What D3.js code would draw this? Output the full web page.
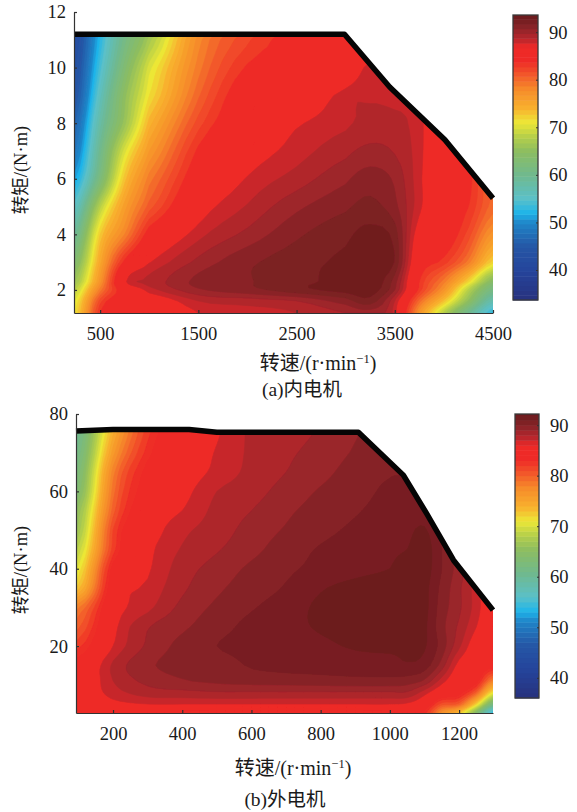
<!DOCTYPE html>
<html><head><meta charset="utf-8">
<script src="https://cdn.jsdelivr.net/npm/d3@7"></script>
<style>
html,body{margin:0;padding:0;background:#fff}
svg{display:block}
text{font-family:"Liberation Serif","Noto Sans CJK SC",serif;fill:#1a1a1a}
</style></head><body>
<svg id="c" width="577" height="812"></svg>
<script>
// ---------- shared colour map (position along colour bar -> colour)
const mapStops=[0.005,0.105,0.189,0.272,0.305,0.356,0.439,0.523,0.573,0.623,0.673,0.74,0.79,0.84,0.89,0.907,0.923,0.94,0.957,0.973,0.99,1];
const mapColors=["#27327f","#25459c","#2557a6","#1f86c9","#1db4ea","#5bc0c8","#70b98e","#8dbd60","#b5cf4a","#ece736","#f8b12e","#f68b2a","#f2592a","#ee2a27","#ee2a27","#c8272b","#b1262c","#9e252b","#892428","#7c2023","#701d1f","#6a1b1e"];

// ---------- (a) inner motor
const speedA=[234,500,750,1000,1500,2000,2500,3000,3250,3500,3750,4000,4250,4500];
const torqueA=[1.17,1.6,2,2.3,3,4,5,6,7,8,9,10,11,11.4];
const effA=[
[71,83.5,85,85.5,87.5,88,88.5,89.5,90,88,77,68,60,53],
[70,82,85,86,88.5,89,89.5,91,92,88.5,80,73,65,57],
[68,79,85,88,90.3,91.1,92.1,92.8,93,90.5,83,77,68,61],
[66,77,87.2,88.8,90.8,91.4,92.2,92.8,93.1,91,83.5,79,72,64],
[63,75,84,87.4,89.8,91.25,92.07,92.7,92.9,92.4,85,83,79,72],
[59,72.5,78.5,84.5,88.1,89.8,91.3,92.25,92.8,92,86.5,85,82,77],
[55,68,76,81,86.5,88.6,90.25,91.3,91.8,90.8,87.8,85,83.5,80],
[51,62,73,79,85,87.6,88.95,90.3,91,90.3,87.8,85,84,80],
[48,60,70,76.5,83.8,86.5,88,89.2,89.8,89.4,87.9,85,84,81],
[46,58,66,74,82,85.5,87.3,88.3,88.8,88.8,87.9,85,84,81],
[44,56,65,71.5,80.3,85,85.5,88,88.4,88.2,87.8,85,84,81],
[43,54,63,70,79,83.7,84.5,85.5,88,87.8,85,85,84,81],
[42,52.5,61,67,78,82.3,84.2,84.5,85,85,85,85,84,81],
[41,52,60,66,77,82,84,84.5,85,85,85,85,84,81]];
const limitSpeedA=[234,2988,3448,4010,4500];
const limitTorqueA=[11.2,11.2,9.3,7.4,5.3];
const xTicksA=[500,1500,2500,3500,4500];
const yTicksA=[2,4,6,8,10,12];
const barTicksA=[40,50,60,70,80,90];

// ---------- (b) outer motor
const speedB=[93,200,300,400,500,600,700,800,900,1000,1050,1100,1150,1200,1250,1298];
const torqueB=[2.7,5,8,11,15,20,25,30,35,40,45,50,55,60,65,70,76.5];
const effB=[
[83,84,84,84,84,84,84,84,84,84,84,83,77,73,64,54],
[85,86,86.5,86.5,86.5,86.5,86.5,86.5,86.5,86.5,86.3,85,81,80,72,62],
[85,87,88,88.2,88.4,88.4,88.4,88.4,88.4,88.4,88.4,87,85,84,80,71],
[84.5,87.5,88.8,89.4,89.7,89.9,90,90.1,90.2,90.2,90,89.3,87,85,84,78],
[84,87.7,89.3,89.8,90,90.6,90.8,90.9,91,91.1,91.4,91,89,86,85,84],
[82,86.5,88.7,89.8,90.5,90.8,91,91.3,91.6,91.7,91.6,91.6,90,87.7,85.5,84.5],
[80,86,88.4,89.3,90.1,90.8,91.2,91.6,91.8,92,91.9,91.7,89.8,88.3,86.5,84.8],
[78,85.4,87.2,88.8,89.7,90.4,91,91.7,92,92,92,91.8,90,88.7,87,85],
[72.5,84.8,86.7,88.3,89.3,90,90.6,91.4,91.8,92,92,91.8,90.2,88.7,87,85],
[70,84,86.3,88,88.9,89.7,90.3,90.8,91.2,91.5,92,92,90.5,89,87.5,86],
[68,82,86,87.6,88.4,89.2,90,90.6,91,91.3,91.5,92,90.5,89,88,87],
[66,81.5,85.5,87.2,88,88.9,89.6,90.2,90.7,91.1,91.3,91.6,90.5,90,89,88],
[65,80,85.2,86.5,87.8,88.5,89.3,89.9,90.4,90.9,91.1,91,90.5,90,89,88],
[63,79,84.5,86,87.5,88.1,88.9,89.6,90.1,90.7,90.7,90.3,90,90,89,88],
[62,78,84,85.6,86.8,87.8,88.5,89.2,89.9,90.4,90.4,90.3,90,90,89,88],
[61,76,83,85.3,86.6,87.7,88.3,88.9,89.6,90,90,90,90,90,89,88],
[60,74,82,85,86.3,87.7,88,88.6,89.4,89.8,89.8,89.8,89.8,89.8,89,88]];
const limitSpeedB=[93,200,420,500,909,1039,1106,1184,1298];
const limitTorqueB=[75.6,76,76,75.3,75.3,64.2,54.3,42.2,29.3];
const xTicksB=[200,400,600,800,1000,1200];
const yTicksB=[20,40,60,80];
const barTicksB=[40,50,60,70,80,90];

const svg=d3.select("#c");
const defs=svg.append("defs");
// render-time smoothing of the value table so the filled contours are not faceted
const K=4;
function cr(p0,p1,p2,p3,t){return .5*(2*p1+(p2-p0)*t+(2*p0-5*p1+4*p2-p3)*t*t+(3*p1-p0-3*p2+p3)*t*t*t);}
function resample(rows){
  const m=rows.length,n=rows[0].length;
  const at=(j,i)=>rows[Math.max(0,Math.min(m-1,j))][Math.max(0,Math.min(n-1,i))];
  const N=(n-1)*K+1,M=(m-1)*K+1,out=[];
  const mx=d3.max(rows.flat()),mn=d3.min(rows.flat());
  for(let J=0;J<M;J++){
    const j=Math.min(Math.floor(J/K),m-2),v=J/K-j;
    for(let I=0;I<N;I++){
      const i=Math.min(Math.floor(I/K),n-2),u=I/K-i;
      const col=d3.range(-1,3).map(d=>cr(at(j+d,i-1),at(j+d,i),at(j+d,i+1),at(j+d,i+2),u));
      out.push(Math.max(mn,Math.min(mx,cr(col[0],col[1],col[2],col[3],v))));
    }
  }
  return {values:out,N,M};
}
function panel(o){
  const x=d3.scaleLinear().domain(o.xDom).range([o.l,o.r]);
  const y=d3.scaleLinear().domain(o.yDom).range([o.b,o.t]);
  const tScale=d3.scaleLinear().domain(mapStops).range(mapColors).clamp(true);
  const col=v=>tScale((v-o.barDom[0])/(o.barDom[1]-o.barDom[0]));
  const R=resample(o.eff);
  const mapAxis=(arr,cnt)=>{
    const idx=d3.scaleLinear().domain(d3.range(arr.length)).range(arr);
    return c=>idx(Math.max(0,Math.min(cnt-1,c-.5))/K);
  };
  const gx=mapAxis(o.speed,R.N),gy=mapAxis(o.torque,R.M);
  const lo=Math.floor(d3.min(R.values)),hi=Math.ceil(d3.max(R.values));
  const th=d3.range(lo+.5,hi,1);
  const conts=d3.contours().size([R.N,R.M]).smooth(true).thresholds(th)(R.values);
  const line=d3.line().x(d=>x(gx(d[0]))).y(d=>y(gy(d[1])));
  const pathOf=c=>c.coordinates.map(p=>p.map(r=>line(r)+"Z").join("")).join("");
  const clipPts=o.limitS.map((s,i)=>[x(s),y(o.limitT[i])]);
  clipPts.push([x(o.xDom[1]),o.b],[x(o.xDom[0]),o.b]);
  defs.append("clipPath").attr("id",o.id).append("polygon").attr("points",clipPts.map(p=>p.join(",")).join(" "));
  defs.append("filter").attr("id",o.id+"b").append("feGaussianBlur").attr("stdDeviation",0.5);
  const g=svg.append("g").attr("clip-path",`url(#${o.id})`).append("g").attr("filter",`url(#${o.id}b)`);
  g.append("rect").attr("x",o.l-3).attr("y",o.t-3).attr("width",o.r-o.l+6).attr("height",o.b-o.t+6).attr("fill",col(lo));
  g.selectAll("path").data(conts).join("path").attr("d",pathOf)
    .attr("fill",d=>col(d.value+.5)).attr("stroke",d=>col(d.value+.5)).attr("stroke-width",.5);
  svg.append("path").attr("fill","none").attr("stroke","#050505").attr("stroke-width",5.5).attr("stroke-linejoin","round")
    .attr("d",d3.line()(o.limitS.map((s,i)=>[x(s),y(o.limitT[i])])));
  const fmt=d3.format("d");
  const ax=svg.append("g").attr("transform",`translate(0,${o.b})`).call(d3.axisBottom(x).tickValues(o.xTicks).tickFormat(fmt).tickSizeInner(-3).tickSizeOuter(0).tickPadding(14));
  const ay=svg.append("g").attr("transform",`translate(${o.l},0)`).call(d3.axisLeft(y).tickValues(o.yTicks).tickFormat(fmt).tickSizeInner(-3).tickSizeOuter(0).tickPadding(8));
  [ax,ay].forEach(a=>{a.attr("font-family",null);a.selectAll("text").attr("font-size",18.5).style("fill","#1a1a1a");
    a.selectAll("line,path").attr("stroke","#333").attr("stroke-width",1.2);});
  const by=d3.scaleLinear().domain(o.barDom).range([o.barB,o.barT]);
  const bandEdges=d3.range(o.barDom[0],o.barDom[1],1);
  svg.append("g").selectAll("rect").data(bandEdges).join("rect")
    .attr("x",o.barL).attr("width",o.barW)
    .attr("y",d=>by(Math.min(d+1,o.barDom[1]))).attr("height",d=>by(d)-by(Math.min(d+1,o.barDom[1]))+.5)
    .attr("fill",d=>col(d+.5));
  svg.append("rect").attr("x",o.barL).attr("y",o.barT).attr("width",o.barW).attr("height",o.barB-o.barT)
    .attr("fill","none").attr("stroke","#3a3a3a").attr("stroke-width",1.3);
  const ab=svg.append("g").attr("transform",`translate(${o.barL+o.barW},0)`).call(d3.axisRight(by).tickValues(o.barTicks).tickFormat(fmt).tickSizeInner(-2).tickSizeOuter(0).tickPadding(11));
  ab.select(".domain").remove();ab.attr("font-family",null);
  ab.selectAll("line").attr("stroke","#333");
  ab.selectAll("text").attr("font-size",18.5).style("fill","#1a1a1a");
  svg.append("text").attr("transform",`translate(${o.yLabX},${o.yLabY}) rotate(-90)`).attr("text-anchor","middle").attr("font-size",18.5).text("转矩/(N·m)");
  const xl=svg.append("text").attr("x",o.xLabX).attr("y",o.xLabY).attr("text-anchor","middle").attr("font-size",20);
  xl.append("tspan").text("转速/(r·min");
  xl.append("tspan").attr("dy",-7).attr("font-size",12.5).text("−1");
  xl.append("tspan").attr("dy",7).text(")");
  svg.append("text").attr("x",o.capX).attr("y",o.capY).attr("text-anchor","middle").attr("font-size",19.5).text(o.caption);
}
panel({id:"a",speed:speedA,torque:torqueA,eff:effA,limitS:limitSpeedA,limitT:limitTorqueA,xTicks:xTicksA,yTicks:yTicksA,barTicks:barTicksA,
  xDom:[234,4500],yDom:[1.17,12],barDom:[33.7,93.6],l:74,r:493,t:12,b:313,barL:513,barW:25,barT:15,barB:300,
  yLabX:27,yLabY:170,xLabX:318,xLabY:370,capX:302,capY:396,caption:"(a)内电机"});
panel({id:"b",speed:speedB,torque:torqueB,eff:effB,limitS:limitSpeedB,limitT:limitTorqueB,xTicks:xTicksB,yTicks:yTicksB,barTicks:barTicksB,
  xDom:[93,1298],yDom:[2.7,80],barDom:[36,92.2],l:76,r:493,t:414,b:713,barL:515,barW:24,barT:414,barB:698,
  yLabX:27,yLabY:570,xLabX:293,xLabY:775,capX:285,capY:806,caption:"(b)外电机"});
</script>
</body></html>
